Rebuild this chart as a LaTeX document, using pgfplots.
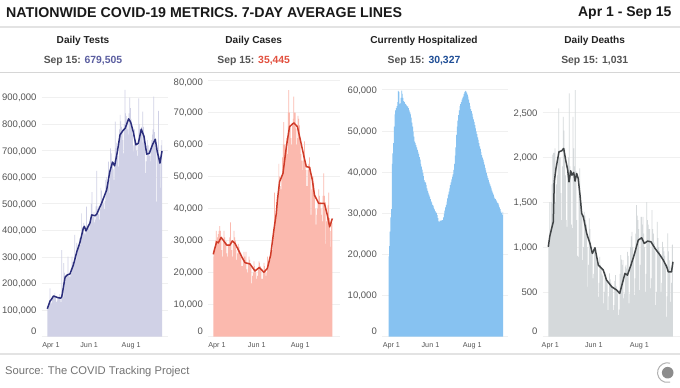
\documentclass[border=0pt]{standalone}
\usepackage{pgfplots}
\usepackage{fontspec}
\setmainfont{Liberation Sans}
\pgfplotsset{compat=1.18}
\definecolor{tfill}{HTML}{D0D1E6}\definecolor{tline}{HTML}{2B2E7C}\definecolor{tval}{HTML}{5B5EA0}
\definecolor{cfill}{HTML}{FBB9AE}\definecolor{cline}{HTML}{CF3B28}\definecolor{cval}{HTML}{E2503F}
\definecolor{hfill}{HTML}{87C2F1}\definecolor{hval}{HTML}{1F4E96}
\definecolor{dfill}{HTML}{D5D9DB}\definecolor{dline}{HTML}{404446}
\definecolor{txt}{HTML}{555555}\definecolor{head}{HTML}{222222}
\pgfplotsset{
 panel/.style={
  scale only axis, anchor=south west,
  height=256.6pt,
  axis line style={draw=none}, tick style={draw=none}, major tick length=0pt,
  ymajorgrids, grid style={color=black!6,line width=0.6pt},
  ymin=0, xtick={61,122},
  xticklabels={Jun 1,Aug 1},
  clip=false,
  scaled y ticks=false,
  tick label style={color=txt},
  yticklabel style={font=\fontsize{9.5}{11}\selectfont,anchor=base east,inner xsep=0pt,inner ysep=0pt,xshift=-5pt,yshift=-3.4pt,
     /pgf/number format/1000 sep={,},/pgf/number format/fixed,/pgf/number format/assume math mode=true},
  xticklabel style={font=\fontsize{7.2}{9}\selectfont,anchor=base,yshift=-11.4pt,inner sep=0pt},
 }
}
\newcommand{\panelhead}[4]{%
 \node[font=\fontsize{10.1}{11}\bfseries\selectfont,text=head] at (#1,347.3) {#2};
 \node[font=\fontsize{10.4}{11}\bfseries\selectfont,text=txt] at (#1,326.7) {Sep 15: \textcolor{#3}{#4}};
}
\begin{document}
\begin{tikzpicture}[x=1pt,y=1pt]
\path[use as bounding box,fill=white] (0,0) rectangle (680,388);
\node[anchor=west,inner sep=0pt,font=\fontsize{14.2}{17}\bfseries\selectfont,text=black!90] at (6,375.3) {NATIONWIDE COVID-19 METRICS. 7-DAY AVERAGE LINES};
\node[anchor=east,inner sep=0pt,font=\fontsize{14}{17}\bfseries\selectfont,text=black!90] at (671.7,375.3) {Apr 1 - Sep 15};
\fill[black!11] (0,360.2) rectangle (680,361.7);
\draw[black!16,line width=0.7pt] (0,315.7) -- (680,315.7);
\fill[black!11] (0,33.2) rectangle (680,34.7);
\node[anchor=west,inner sep=0pt,font=\fontsize{11.2}{13}\selectfont,text=black!55] at (5,16) {Source: The COVID Tracking Project};
\panelhead{83}{Daily Tests}{tval}{679,505}
\panelhead{253.7}{Daily Cases}{cval}{35,445}
\panelhead{424}{Currently Hospitalized}{hval}{30,327}
\panelhead{594.7}{Daily Deaths}{txt}{1,031}
% logo
\fill[black!45] (667.7,15.3) circle (5.8);
\draw[black!30,line width=1pt] (670.0,24.9) arc (75:285:9.9);

% Tests
\begin{axis}[panel,at={(41.7pt,51.4pt)},width=126.3pt,xmin=-8.15,xmax=175.7,ymax=966000,
 ytick={100000,200000,300000,400000,500000,600000,700000,800000,900000},
 extra y ticks={0},extra y tick style={yticklabel style={yshift=5.3pt}},
 extra x ticks={5.4},extra x tick labels={Apr 1}]
\addplot[fill=tfill,draw=none,const plot mark mid] coordinates {
(0,105000)(1,115000)(2,120000)(3,135000)(4,182000)(5,130000)(6,125000)
(7,140000)(8,145000)(9,150000)(10,155000)(11,165000)(12,150000)(13,130000)
(14,135000)(15,150000)(16,150000)(17,145000)(18,160000)(19,140000)(20,130000)
(21,326000)(22,170000)(23,150000)(24,277000)(25,240000)(26,215000)(27,205000)
(28,225000)(29,235000)(30,301000)(31,230000)(32,225000)(33,240000)(34,225000)
(35,240000)(36,301000)(37,280000)(38,265000)(39,270000)(40,383000)(41,290000)
(42,290000)(43,353000)(44,335000)(45,345000)(46,330000)(47,370000)(48,345000)
(49,365000)(50,464000)(51,400000)(52,410000)(53,428000)(54,390000)(55,385000)
(56,400000)(57,489000)(58,410000)(59,420000)(60,410000)(61,415000)(62,400000)
(63,450000)(64,500000)(65,544000)(66,460000)(67,450000)(68,470000)(69,430000)
(70,440000)(71,490000)(72,624000)(73,480000)(74,490000)(75,460000)(76,440000)
(77,480000)(78,560000)(79,550000)(80,520000)(81,510000)(82,500000)(83,480000)
(84,510000)(85,590000)(86,600000)(87,560000)(88,570000)(89,659000)(90,540000)
(91,590000)(92,709000)(93,690000)(94,660000)(95,650000)(96,630000)(97,590000)
(98,640000)(99,809000)(100,710000)(101,730000)(102,700000)(103,680000)(104,640000)
(105,780000)(106,835000)(107,810000)(108,790000)(109,780000)(110,740000)(111,690000)
(112,800000)(113,929000)(114,840000)(115,830000)(116,810000)(117,780000)(118,760000)
(119,840000)(120,900000)(121,860000)(122,820000)(123,790000)(124,760000)(125,720000)
(126,697000)(127,780000)(128,740000)(129,720000)(130,700000)(131,680000)(132,720000)
(133,897000)(134,800000)(135,780000)(136,760000)(137,790000)(138,730000)(139,847000)
(140,790000)(141,760000)(142,720000)(143,615000)(144,660000)(145,720000)(146,740000)
(147,720000)(148,700000)(149,680000)(150,660000)(151,710000)(152,740000)(153,760000)
(154,780000)(155,903000)(156,770000)(157,740000)(158,720000)(159,508000)(160,700000)
(161,720000)(162,850000)(163,680000)(164,660000)(165,560000)(166,720000)(167,740000)
} \closedcycle;
\addplot[tline,line width=1.5pt,line join=round] coordinates {
(0,105000)(1,112000)(4,134000)(6,140000)(9,153000)(12,150000)(15,147000)(19.5,144600)(21,150000)(22,163000)(24,195000)(26,224000)(29,232000)(33,236000)(38,270000)(43,320000)(47.6,355000)(52.4,408000)(54,415000)(56.3,398000)(59,412000)(62,427000)(64.6,458000)(69.4,455000)(72,461000)(74,473000)(79,502000)(86.4,552000)(91,621000)(95,657000)(98,643000)(102,696000)(105.8,759000)(109.7,774000)(113.5,785000)(118.4,820000)(121.4,807000)(125,772000)(129,722000)(132.5,728000)(136.8,781000)(140.8,753000)(144.7,687000)(148.5,690000)(153.4,724000)(157.2,743000)(160,697000)(164,653000)(167,699000)};
\end{axis}

% Cases
\begin{axis}[panel,at={(208pt,51.4pt)},width=132pt,xmin=-7.44,xmax=177.8,ymax=80187,
 ytick={10000,20000,30000,40000,50000,60000,70000,80000},
 yticklabels={{10,000},{20,000},{30,000},{40,000},{50,000},{60,000},{70,000},{\raisebox{-2pt}{80,000}}},
 extra y ticks={0},
 extra y tick style={yticklabel style={yshift=5.3pt}},
 extra y tick labels={0},
 extra x ticks={5.1},extra x tick labels={Apr 1}]
\addplot[fill=cfill,draw=none,const plot mark mid] coordinates {
(0,25000)(1,27000)(2,28000)(3,30000)(4,33000)(5,30000)(6,31000)
(7,32000)(8,33000)(9,34500)(10,33000)(11,31000)(12,27000)(13,25000)
(14,30000)(15,33000)(16,31000)(17,29000)(18,30000)(19,26000)(20,25000)
(21,29000)(22,29000)(23,31000)(24,35700)(25,30000)(26,27000)(27,25000)
(28,29000)(29,33000)(30,31000)(31,30000)(32,27000)(33,24000)(34,26000)
(35,29000)(36,28000)(37,26000)(38,25000)(39,26000)(40,22000)(41,22000)
(42,24000)(43,26500)(44,25000)(45,24000)(46,26500)(47,21000)(48,20000)
(49,23000)(50,25000)(51,24000)(52,22000)(53,22000)(54,16600)(55,19000)
(56,20000)(57,23500)(58,22000)(59,21000)(60,20000)(61,18000)(62,19000)
(63,21000)(64,23500)(65,23000)(66,22000)(67,21000)(68,18000)(69,18000)
(70,20000)(71,23000)(72,22000)(73,21000)(74,19000)(75,20000)(76,25000)
(77,22000)(78,23000)(79,25000)(80,24000)(81,26000)(82,28000)(83,27000)
(84,31000)(85,33000)(86,45000)(87,37000)(88,38000)(89,42000)(90,43000)
(91,44000)(92,54000)(93,50000)(94,47000)(95,46000)(96,50000)(97,56000)
(98,60000)(99,67000)(100,60000)(101,58000)(102,60000)(103,62000)(104,57000)
(105,70000)(106,77000)(107,70000)(108,66000)(109,62000)(110,60000)(111,66000)
(112,68000)(113,75000)(114,70000)(115,70000)(116,65000)(117,60000)(118,62000)
(119,69000)(120,68000)(121,66000)(122,62000)(123,57000)(124,55000)(125,52000)
(126,55000)(127,58000)(128,61000)(129,54000)(130,52000)(131,47000)(132,47000)
(133,52000)(134,54000)(135,56000)(136,53000)(137,38000)(138,46000)(139,50000)
(140,50000)(141,48000)(142,44000)(143,40000)(144,35000)(145,38000)(146,40000)
(147,42000)(148,46000)(149,44000)(150,42000)(151,40000)(152,38000)(153,36000)
(154,44000)(155,51000)(156,44000)(157,42000)(158,29000)(159,36000)(160,38000)
(161,41000)(162,45000)(163,37000)(164,33000)(165,28000)(166,36000)(167,35445)
} \closedcycle;
\addplot[cline,line width=1.5pt,line join=round] coordinates {
(0,25700)(2,27500)(4.7,29600)(7,29300)(11,31000)(15,29800)(18.8,28600)(23.4,28600)(26.7,29900)(30.5,29100)(35,27200)(40,24900)(44.5,23100)(51.5,22700)(58.5,20500)(64.5,21600)(68,20800)(71,20100)(75.8,21300)(80.5,25500)(85,33300)(88.4,38500)(90,42700)(93,48400)(97.8,51000)(102.5,59300)(107,65600)(113,66800)(118,65600)(122.7,60900)(127.3,56200)(130.5,53100)(135,52900)(139,48900)(142,44200)(148,41600)(156,41600)(160,38000)(163.3,34300)(167,36900)};
\end{axis}

% Hospitalized
\begin{axis}[panel,at={(382pt,51.4pt)},width=126pt,xmin=-9.79,xmax=174.3,ymax=62357,
 ytick={10000,20000,30000,40000,50000,60000},
 extra y ticks={0},extra y tick style={yticklabel style={yshift=5.3pt}},
 extra x ticks={3.9},extra x tick labels={Apr 1}]
\addplot[fill=hfill,draw=none,const plot mark mid] coordinates {
(0,19500)(1,22000)(2,25500)(3,29000)(4,31000)(5,42000)(6,44500)(7,47000)(8,51000)(9,54000)(10,55000)(11,55500)(12,56000)(13,57000)(14,59700)(15,59500)(16,56500)(17,56700)(18,58000)(19,59800)(20,59000)(21,58000)(22,57200)(23,57000)(24,56600)(25,56500)(26,56200)(27,55900)(28,56000)(29,55500)
(30,55000)(31,54500)(32,54000)(33,53200)(34,52000)(35,51000)(36,49800)(37,48600)(38,47400)(39,47000)(40,46500)(41,46000)(42,45400)(43,44900)(44,44400)(45,43600)(46,43000)(47,42000)(48,41300)(49,40600)(50,39800)(51,39000)(52,38000)(53,37600)(54,37400)(55,36800)(56,36000)(57,35400)(58,34900)(59,34500)
(60,34000)(61,33400)(62,32900)(63,32600)(64,32000)(65,31800)(66,31300)(67,30900)(68,30500)(69,30200)(70,30000)(71,29500)(72,28800)(73,28000)(74,27800)(75,28200)(76,28200)(77,28100)(78,28300)(79,28300)(80,29000)(81,29800)(82,30600)(83,31400)(84,32000)(85,32800)(86,33600)(87,34500)(88,35200)(89,36000)
(90,36800)(91,37500)(92,38200)(93,38800)(94,39400)(95,40500)(96,42000)(97,44000)(98,46000)(99,49000)(100,51000)(101,52500)(102,53800)(103,55000)(104,56000)(105,56500)(106,57000)(107,57600)(108,58000)(109,58300)(110,59000)(111,59500)(112,59700)(113,59600)(114,59300)(115,58800)(116,58300)(117,57600)(118,56800)(119,56000)
(120,55300)(121,54800)(122,54200)(123,53400)(124,52800)(125,52200)(126,51400)(127,50600)(128,49900)(129,49200)(130,48400)(131,47800)(132,47000)(133,46200)(134,45600)(135,44800)(136,44100)(137,43500)(138,43000)(139,42400)(140,41800)(141,41000)(142,40400)(143,39800)(144,39100)(145,38500)(146,38000)(147,37500)(148,37000)(149,36500)
(150,36000)(151,35500)(152,35000)(153,34500)(154,34000)(155,33600)(156,33400)(157,33100)(158,32800)(159,32500)(160,32400)(161,31900)(162,31400)(163,31000)(164,30400)(165,30000)(166,29600)(167,30327)
} \closedcycle;
\end{axis}

% Deaths
\begin{axis}[panel,at={(542.7pt,51.4pt)},width=137.3pt,xmin=-7.5,xmax=176.4,ymax=2864,
 ytick={500,1000,1500,2000,2500},
 extra y ticks={0},extra y tick style={yticklabel style={yshift=5.3pt}},
 extra x ticks={2.7},extra x tick labels={Apr 1}]
\addplot[fill=dfill,draw=none,const plot mark mid] coordinates {
(0,1000)(1,1050)(2,1500)(3,1200)(4,1500)(5,1700)(6,2030)
(7,2050)(8,2050)(9,2100)(10,1500)(11,1700)(12,1800)(13,2000)
(14,2546)(15,2000)(16,2000)(17,1600)(18,1300)(19,1900)(20,2453)
(21,2300)(22,2100)(23,1800)(24,1300)(25,1225)(26,1900)(27,2000)
(28,2714)(29,1900)(30,1800)(31,1250)(32,1211)(33,2453)(34,2100)
(35,1900)(36,2751)(37,1850)(38,1300)(39,900)(40,891)(41,1700)
(42,1877)(43,1550)(44,1500)(45,1350)(46,854)(47,1000)(48,1393)
(49,1350)(50,1300)(51,1250)(52,1000)(53,556)(54,800)(55,1319)
(56,1200)(57,1050)(58,1000)(59,950)(60,650)(61,700)(62,1000)
(63,980)(64,900)(65,850)(66,800)(67,444)(68,600)(69,891)
(70,800)(71,750)(72,700)(73,680)(74,371)(75,500)(76,720)
(77,700)(78,650)(79,620)(80,296)(81,450)(82,705)(83,640)
(84,600)(85,560)(86,540)(87,296)(88,350)(89,620)(90,686)
(91,560)(92,500)(93,480)(94,240)(95,300)(96,700)(97,910)
(98,860)(99,800)(100,854)(101,426)(102,480)(103,780)(104,800)
(105,760)(106,946)(107,900)(108,371)(109,480)(110,1000)(111,1120)
(112,1170)(113,1000)(114,920)(115,463)(116,650)(117,1150)(118,1467)
(119,1350)(120,1300)(121,1200)(122,519)(123,800)(124,1337)(125,1337)
(126,1250)(127,1337)(128,1150)(129,1000)(130,500)(131,700)(132,1500)
(133,1300)(134,1250)(135,1200)(136,1200)(137,538)(138,650)(139,1412)
(140,1200)(141,1150)(142,1050)(143,951)(144,351)(145,500)(146,1281)
(147,1100)(148,1000)(149,950)(150,900)(151,500)(152,600)(153,1058)
(154,1000)(155,950)(156,900)(157,800)(158,221)(159,450)(160,1152)
(161,950)(162,850)(163,780)(164,388)(165,600)(166,1021)(167,1031)
} \closedcycle;
\addplot[dline,line width=1.5pt,line join=round] coordinates {
(0,1002)(2,1120)(4.5,1208)(6.7,1281)(8,1727)(10.3,1877)(14.3,2063)(18,2074)(20.6,2100)(23.3,1970)(26,1858)(27.7,1727)(30,1850)(31.7,1802)(34,1832)(35.8,1735)(38,1821)(40,1766)(42.5,1579)(44.7,1375)(46.9,1337)(51.4,1152)(55.8,1040)(59,928)(62.5,991)(67,798)(73.7,742)(78,631)(85,556)(91.6,519)(95.6,482)(102.7,705)(106,686)(110.7,798)(115,910)(118,1002)(120.5,1077)(125,1103)(128.5,1040)(133,1066)(137.5,1058)(143,984)(149.6,910)(154,854)(158.6,779)(160.7,723)(165,723)(167,835)};
\end{axis}
\end{tikzpicture}
\end{document}
